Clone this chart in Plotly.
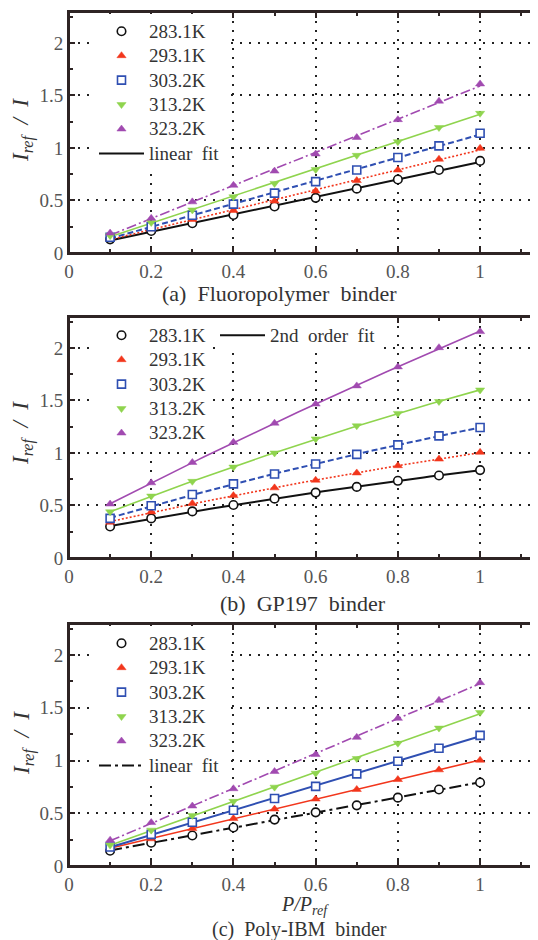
import numpy as np
import plotly.graph_objects as go

# ---------------- data ----------------
x_vals = [0.1, 0.2, 0.3, 0.4, 0.5, 0.6, 0.7, 0.8, 0.9, 1.0]
temps = ["283.1K", "293.1K", "303.2K", "313.2K", "323.2K"]

a_283 = [0.13, 0.21, 0.283, 0.362, 0.443, 0.525, 0.613, 0.70, 0.79, 0.877]
a_293 = [0.14, 0.23, 0.32, 0.405, 0.494, 0.59, 0.69, 0.79, 0.893, 0.997]
a_303 = [0.15, 0.25, 0.36, 0.465, 0.57, 0.68, 0.79, 0.91, 1.02, 1.14]
a_313 = [0.165, 0.29, 0.41, 0.535, 0.663, 0.795, 0.93, 1.06, 1.195, 1.33]
a_323 = [0.19, 0.33, 0.487, 0.645, 0.78, 0.943, 1.10, 1.27, 1.446, 1.61]

b_283 = [0.30, 0.377, 0.444, 0.505, 0.565, 0.623, 0.677, 0.735, 0.786, 0.837]
b_293 = [0.34, 0.438, 0.52, 0.594, 0.668, 0.741, 0.81, 0.879, 0.942, 1.006]
b_303 = [0.377, 0.498, 0.604, 0.706, 0.80, 0.895, 0.987, 1.077, 1.163, 1.243]
b_313 = [0.44, 0.59, 0.73, 0.866, 1.0, 1.134, 1.259, 1.377, 1.49, 1.60]
b_323 = [0.514, 0.716, 0.91, 1.102, 1.284, 1.466, 1.639, 1.82, 2.003, 2.156]

c_283 = [0.145, 0.22, 0.289, 0.365, 0.44, 0.509, 0.575, 0.648, 0.726, 0.792]
c_293 = [0.167, 0.258, 0.355, 0.45, 0.54, 0.635, 0.726, 0.82, 0.912, 1.003]
c_303 = [0.18, 0.30, 0.415, 0.528, 0.64, 0.755, 0.874, 0.994, 1.116, 1.239]
c_313 = [0.198, 0.34, 0.48, 0.613, 0.748, 0.88, 1.019, 1.164, 1.308, 1.456]
c_323 = [0.245, 0.412, 0.569, 0.733, 0.896, 1.057, 1.22, 1.40, 1.572, 1.739]

x_ticks = [0, 0.2, 0.4, 0.6, 0.8, 1]
x_tick_labels = ["0", "0.2", "0.4", "0.6", "0.8", "1"]
x_minor = [0.1, 0.3, 0.5, 0.7, 0.9, 1.1]
y_ticks = [0, 0.5, 1, 1.5, 2]
y_tick_labels = ["0", "0.5", "1", "1.5", "2"]
y_minor = [0.25, 0.75, 1.25, 1.75, 2.25]

captions = ["(a)\u00a0 Fluoropolymer\u00a0 binder", "(b)\u00a0 GP197\u00a0 binder", "(c)\u00a0 Poly-IBM\u00a0 binder"]
fit_labels = ["linear\u00a0 fit", "2nd\u00a0 order\u00a0 fit", "linear\u00a0 fit"]

# ---------------- styles ----------------
OFF = 8                      # page body margin
W, H = 538 - OFF, 940 - OFF
FONT = "Liberation Serif, Times New Roman, serif"
AX = "#2e2424"
colors = ["#111111", "#f2361c", "#2f4fb2", "#8fd44e", "#a14ab0"]
symbols = ["circle", "triangle-up", "square", "triangle-down", "triangle-up"]
fills = ["white", colors[1], "white", colors[3], colors[4]]

dash_a = ["solid", "2px,2px", "6px,3px", "solid", "10px,3px,2px,3px"]
dash_b = ["solid", "2px,2px", "6px,3px", "solid", "solid"]
dash_c = ["12px,4px,3px,4px", "solid", "solid", "solid", "10px,3px,2px,3px"]

# screen-pixel boxes of the three panels
panels = [
    dict(data=[a_283, a_293, a_303, a_313, a_323], deg=1, dashes=dash_a, top=12, bot=253),
    dict(data=[b_283, b_293, b_303, b_313, b_323], deg=2, dashes=dash_b, top=317, bot=558),
    dict(data=[c_283, c_293, c_303, c_313, c_323], deg=1, dashes=dash_c, top=624, bot=866),
]
L_PX, R_PX = 69, 536


def px(s):
    return (s - OFF) / W


def py(s):
    return 1 - (s - OFF) / H


def legtxt(t):
    return '<span style="font-size:19px">' + t + '</span>'


fig = go.Figure()
xfit = np.linspace(0.1, 1.0, 60)

legend_names = [["legend", "legend"], ["legend2", "legend3"], ["legend4", "legend4"]]

for i, pnl in enumerate(panels):
    xa = "x" if i == 0 else f"x{i+1}"
    ya = "y" if i == 0 else f"y{i+1}"
    data_leg, fit_leg = legend_names[i]
    for k, yv in enumerate(pnl["data"]):
        coef = np.polyfit(x_vals, yv, pnl["deg"])
        fig.add_trace(go.Scatter(
            x=xfit, y=np.polyval(coef, xfit), mode="lines",
            line=dict(color=colors[k], width=2 if k in (0, 2) else 1.6, dash=pnl["dashes"][k]),
            xaxis=xa, yaxis=ya, showlegend=False, hoverinfo="skip"))
    for k, yv in enumerate(pnl["data"]):
        fig.add_trace(go.Scatter(
            x=x_vals, y=yv, mode="markers", name=legtxt(temps[k]),
            marker=dict(symbol=symbols[k], size=8 if k != 0 else 8.5, color=fills[k],
                        line=dict(color=colors[k], width=1.6 if k in (0, 2) else 0.5)),
            xaxis=xa, yaxis=ya, legend=data_leg, showlegend=True))
    fig.add_trace(go.Scatter(
        x=[None], y=[None], mode="lines", name=legtxt(fit_labels[i]),
        line=dict(color="#111111", width=2, dash="solid" if i < 2 else "12px,4px,3px,4px"),
        xaxis=xa, yaxis=ya, legend=fit_leg, showlegend=True))

layout = dict(width=W, height=H, margin=dict(l=0, r=0, t=0, b=0),
              paper_bgcolor="white", plot_bgcolor="white", showlegend=True,
              font=dict(family=FONT, color="#333"))

shapes = []
for i, pnl in enumerate(panels):
    sfx = "" if i == 0 else str(i + 1)
    common = dict(ticks="inside", ticklen=6, tickwidth=1.5, tickcolor=AX,
                  showline=True, linecolor=AX, linewidth=2, mirror="ticks",
                  showgrid=True, gridcolor="#222", gridwidth=2, griddash="2px,7px",
                  zeroline=False, automargin=False,
                  tickfont=dict(family=FONT, size=19, color="#555"))
    layout["xaxis" + sfx] = dict(
        common, domain=[px(L_PX), px(R_PX)], range=[0, 1.136], anchor="y" + sfx,
        tickmode="array", tickvals=x_ticks, ticktext=x_tick_labels,
        minor=dict(tickmode="array", tickvals=x_minor, ticks="inside", ticklen=4,
                   tickwidth=1.5, tickcolor=AX, showgrid=False))
    layout["yaxis" + sfx] = dict(
        common, domain=[py(pnl["bot"]), py(pnl["top"])], range=[0, 2.295], anchor="x" + sfx,
        tickmode="array", tickvals=y_ticks, ticktext=y_tick_labels,
        minor=dict(tickmode="array", tickvals=y_minor, ticks="inside", ticklen=4,
                   tickwidth=1.5, tickcolor=AX, showgrid=False))
    shapes.append(dict(type="rect", xref="x" + sfx + " domain", yref="y" + sfx + " domain",
                       x0=0, x1=1, y0=0, y1=1, line=dict(color=AX, width=2),
                       fillcolor="rgba(0,0,0,0)", layer="above"))
layout["shapes"] = shapes

leg_common = dict(bgcolor="white", borderwidth=0, font=dict(family=FONT, size=16.5, color="#333"),
                  itemwidth=45, tracegroupgap=0, xanchor="left", yanchor="top", traceorder="normal")
layout["legend"] = dict(leg_common, x=px(94), y=py(14))
layout["legend2"] = dict(leg_common, x=px(94), y=py(318))
layout["legend3"] = dict(leg_common, x=px(215), y=py(318))
layout["legend4"] = dict(leg_common, x=px(94), y=py(626))

ann = []
ylab = "<i>I</i><sub><i>ref</i></sub><i>\u00a0 /\u00a0 I</i>"
for yc in (130, 433, 743):
    ann.append(dict(text=ylab, x=px(23), y=py(yc), xref="paper", yref="paper", showarrow=False,
                    xanchor="center", yanchor="middle",
                    textangle=-90, font=dict(family=FONT, size=23, color="#333")))
for cap, (xc, yc), fs in zip(captions, [(279, 293), (303, 603), (299, 929)], [22, 22, 20]):
    ann.append(dict(text=cap, x=px(xc), y=py(yc), xref="paper", yref="paper", showarrow=False,
                    xanchor="center", yanchor="middle",
                    font=dict(family=FONT, size=fs, color="#333")))
ann.append(dict(text="<i>P</i><i>/P</i><sub><i>ref</i></sub>", x=px(305), y=py(905),
                xref="paper", yref="paper", showarrow=False, xanchor="center", yanchor="middle",
                font=dict(family=FONT, size=20, color="#333")))
layout["annotations"] = ann

fig.update_layout(**layout)
fig.write_html("out.html")
